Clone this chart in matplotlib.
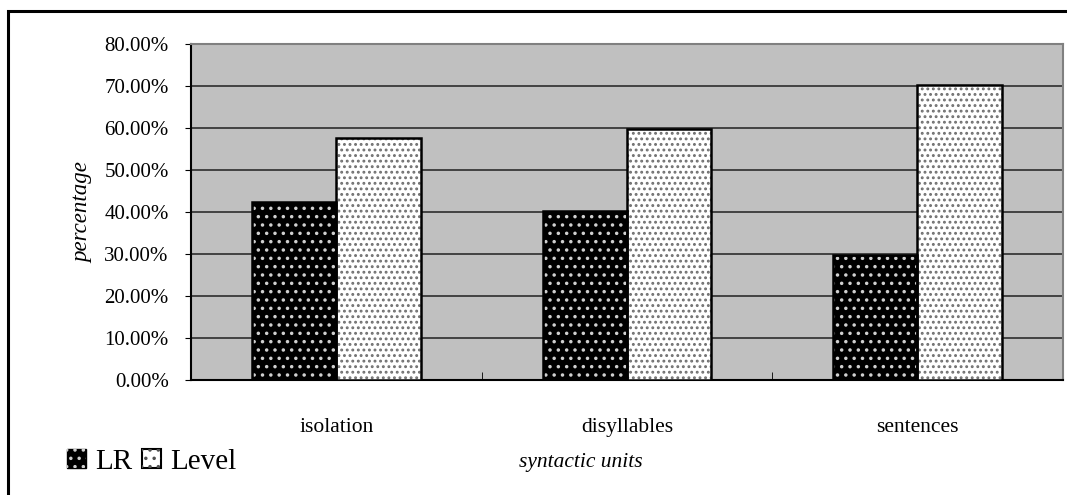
import numpy as np
import matplotlib.pyplot as plt
from matplotlib.patches import Rectangle
from matplotlib.ticker import FuncFormatter

categories = ["isolation", "disyllables", "sentences"]
lr_values = [42.4, 40.2, 29.8]
level_values = [57.6, 59.8, 70.2]
series_names = ["LR", "Level"]

plt.rcParams['font.family'] = ['Liberation Serif', 'DejaVu Serif']
plt.rcParams['hatch.linewidth'] = 1.3


def draw_bars(ax, x, vals, face, dot, pat):
    # fill, then dots on top, then the black outline
    ax.bar(x, vals, width=bw, color=face, linewidth=0, zorder=3)
    ax.bar(x, vals, width=bw, facecolor='none', edgecolor=dot, hatch=pat, linewidth=0, zorder=4)
    ax.bar(x, vals, width=bw, facecolor='none', edgecolor='black', linewidth=1.8, zorder=5)


fig = plt.figure(figsize=(10.67, 4.95), dpi=100)
ax = fig.add_axes([0.179, 0.232, 0.817, 0.679])
ax.set_facecolor('#c0c0c0')

x = np.arange(len(categories))
bw = 0.29
draw_bars(ax, x - bw / 2, lr_values, 'black', '#d0d0d0', '..')
draw_bars(ax, x + bw / 2, level_values, 'white', '#707070', '...')

ax.set_xlim(-0.5, len(categories) - 0.5)
ax.set_ylim(0, 80)
ax.set_yticks(np.arange(0, 81, 10))
ax.yaxis.set_major_formatter(FuncFormatter(lambda v, p: "%.2f%%" % v))
ax.grid(axis='y', color='#202020', linewidth=1.1, zorder=1)
ax.set_axisbelow(True)

ax.set_xticks(x)
ax.set_xticklabels(categories, fontsize=15.5)
ax.tick_params(axis='x', length=0, pad=27)
ax.set_xticks(np.arange(0.5, len(categories) - 0.5, 1), minor=True)
ax.tick_params(axis='x', which='minor', direction='in', length=6, color='black')
ax.tick_params(axis='y', labelsize=15, length=4, pad=12)

for s in ['top', 'right']:
    ax.spines[s].set_color('#808080')
    ax.spines[s].set_linewidth(1.5)
for s in ['left', 'bottom']:
    ax.spines[s].set_color('black')
    ax.spines[s].set_linewidth(1.5)

ax.set_ylabel("percentage", fontsize=16.5, style='italic', labelpad=8)
fig.text(0.544, 0.065, "syntactic units", fontsize=15.5, style='italic', ha='center', va='center')

# legend at lower left, each key = fill + dots + black edge
lr_key = (Rectangle((0, 0), 1, 1, facecolor='black', edgecolor='black'),
          Rectangle((0, 0), 1, 1, facecolor='none', edgecolor='#d0d0d0', hatch='..', linewidth=0))
level_key = (Rectangle((0, 0), 1, 1, facecolor='white', edgecolor='black', linewidth=1.5),
             Rectangle((0, 0), 1, 1, facecolor='none', edgecolor='#505050', hatch='..', linewidth=0))
fig.legend([lr_key, level_key], series_names, loc='center left', bbox_to_anchor=(0.052, 0.067),
           ncol=2, frameon=False, fontsize=21, handlelength=0.65, handleheight=0.65,
           handletextpad=0.3, columnspacing=0.35, borderaxespad=0)

# outer border
fig.patches.append(Rectangle((8 / 1067, -0.1), 1.2, 1 - 11 / 495 + 0.1, transform=fig.transFigure,
                             facecolor='none', edgecolor='black', linewidth=2.2))

fig.savefig("out.png", dpi=100)
